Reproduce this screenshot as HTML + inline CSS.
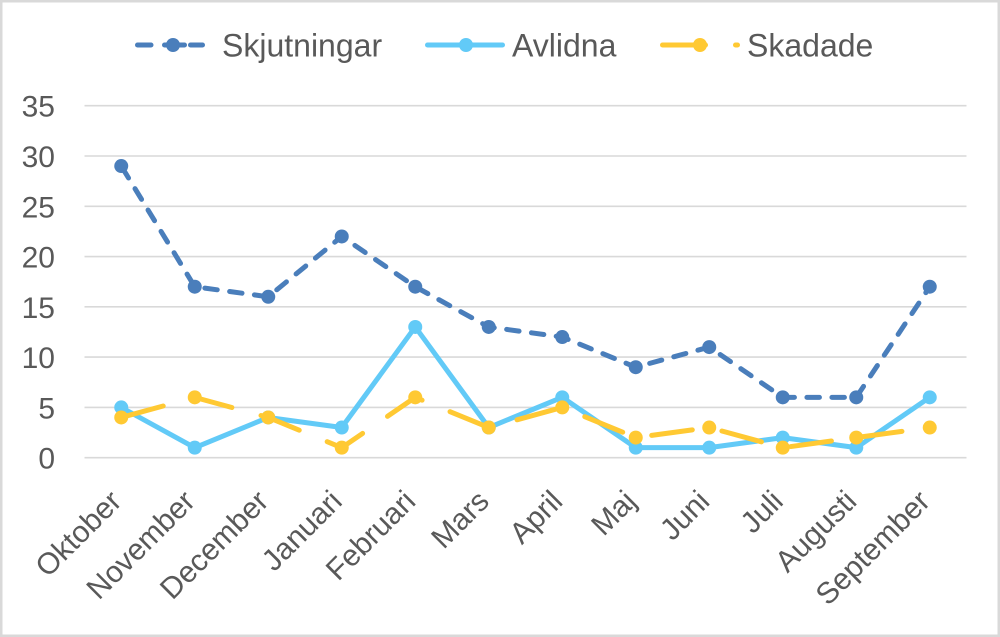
<!DOCTYPE html>
<html>
<head>
<meta charset="utf-8">
<style>
  html, body { margin:0; padding:0; background:#fff; }
  svg { display:block; }
  text { font-family: "Liberation Sans", Arial, sans-serif; fill:#595959; }
</style>
</head>
<body>
<svg width="1000" height="637" viewBox="0 0 1000 637" xmlns="http://www.w3.org/2000/svg">
  <rect x="0" y="0" width="1000" height="637" fill="#fff"/>
  <rect x="1.25" y="1.25" width="997.5" height="634.5" fill="none" stroke="#d9d9d9" stroke-width="2.5"/>

  <!-- gridlines -->
  <g stroke="#d9d9d9" stroke-width="1.6">
    <line x1="84.5" y1="105.7" x2="966.5" y2="105.7"/>
    <line x1="84.5" y1="156.0" x2="966.5" y2="156.0"/>
    <line x1="84.5" y1="206.3" x2="966.5" y2="206.3"/>
    <line x1="84.5" y1="256.6" x2="966.5" y2="256.6"/>
    <line x1="84.5" y1="306.8" x2="966.5" y2="306.8"/>
    <line x1="84.5" y1="357.1" x2="966.5" y2="357.1"/>
    <line x1="84.5" y1="407.4" x2="966.5" y2="407.4"/>
    <line x1="84.5" y1="457.7" x2="966.5" y2="457.7"/>
  </g>

  <!-- y labels -->
  <g font-size="30" text-anchor="end">
    <text x="55" y="116.7">35</text>
    <text x="55" y="167.0">30</text>
    <text x="55" y="217.3">25</text>
    <text x="55" y="267.6">20</text>
    <text x="55" y="317.8">15</text>
    <text x="55" y="368.1">10</text>
    <text x="55" y="418.4">5</text>
    <text x="55" y="468.7">0</text>
  </g>

  <!-- x labels -->
  <g font-size="30" text-anchor="end">
    <text transform="translate(123.25,503) rotate(-45)">Oktober</text>
    <text transform="translate(196.75,503) rotate(-45)">November</text>
    <text transform="translate(270.25,503) rotate(-45)">December</text>
    <text transform="translate(343.75,503) rotate(-45)">Januari</text>
    <text transform="translate(417.25,503) rotate(-45)">Februari</text>
    <text transform="translate(490.75,503) rotate(-45)">Mars</text>
    <text transform="translate(564.25,503) rotate(-45)">April</text>
    <text transform="translate(637.75,503) rotate(-45)">Maj</text>
    <text transform="translate(711.25,503) rotate(-45)">Juni</text>
    <text transform="translate(784.75,503) rotate(-45)">Juli</text>
    <text transform="translate(858.25,503) rotate(-45)">Augusti</text>
    <text transform="translate(931.75,503) rotate(-45)">September</text>
  </g>

  <!-- Skjutningar -->
  <g>
    <polyline fill="none" stroke="#4A7EBB" stroke-width="5" stroke-linecap="round" stroke-linejoin="round"
      stroke-dasharray="12.5 12.5" stroke-dashoffset="-1.5"
      points="121.25,166.05 194.75,286.73 268.25,296.79 341.75,236.45 415.25,286.73 488.75,326.96 562.25,337.02 635.75,367.19 709.25,347.07 782.75,397.36 856.25,397.36 929.75,286.73"/>
    <g fill="#4A7EBB">
      <circle cx="121.25" cy="166.05" r="7"/>
      <circle cx="194.75" cy="286.73" r="7"/>
      <circle cx="268.25" cy="296.79" r="7"/>
      <circle cx="341.75" cy="236.45" r="7"/>
      <circle cx="415.25" cy="286.73" r="7"/>
      <circle cx="488.75" cy="326.96" r="7"/>
      <circle cx="562.25" cy="337.02" r="7"/>
      <circle cx="635.75" cy="367.19" r="7"/>
      <circle cx="709.25" cy="347.07" r="7"/>
      <circle cx="782.75" cy="397.36" r="7"/>
      <circle cx="856.25" cy="397.36" r="7"/>
      <circle cx="929.75" cy="286.73" r="7"/>
    </g>
  </g>

  <!-- Avlidna -->
  <g>
    <polyline fill="none" stroke="#62CAF7" stroke-width="5" stroke-linecap="round" stroke-linejoin="round"
      points="121.25,407.42 194.75,447.64 268.25,417.47 341.75,427.53 415.25,326.96 488.75,427.53 562.25,397.36 635.75,447.64 709.25,447.64 782.75,437.59 856.25,447.64 929.75,397.36"/>
    <g fill="#62CAF7">
      <circle cx="121.25" cy="407.42" r="7"/>
      <circle cx="194.75" cy="447.64" r="7"/>
      <circle cx="268.25" cy="417.47" r="7"/>
      <circle cx="341.75" cy="427.53" r="7"/>
      <circle cx="415.25" cy="326.96" r="7"/>
      <circle cx="488.75" cy="427.53" r="7"/>
      <circle cx="562.25" cy="397.36" r="7"/>
      <circle cx="635.75" cy="447.64" r="7"/>
      <circle cx="709.25" cy="447.64" r="7"/>
      <circle cx="782.75" cy="437.59" r="7"/>
      <circle cx="856.25" cy="447.64" r="7"/>
      <circle cx="929.75" cy="397.36" r="7"/>
    </g>
  </g>

  <!-- Skadade -->
  <g>
    <polyline fill="none" stroke="#FFC933" stroke-width="5" stroke-linecap="round" stroke-linejoin="round"
      stroke-dasharray="41 30.2" stroke-dashoffset="-2.5"
      points="121.25,417.47 194.75,397.36 268.25,417.47 341.75,447.64 415.25,397.36 488.75,427.53 562.25,407.42 635.75,437.59 709.25,427.53 782.75,447.64 856.25,437.59 929.75,427.53"/>
    <g fill="#FFC933">
      <circle cx="121.25" cy="417.47" r="7"/>
      <circle cx="194.75" cy="397.36" r="7"/>
      <circle cx="268.25" cy="417.47" r="7"/>
      <circle cx="341.75" cy="447.64" r="7"/>
      <circle cx="415.25" cy="397.36" r="7"/>
      <circle cx="488.75" cy="427.53" r="7"/>
      <circle cx="562.25" cy="407.42" r="7"/>
      <circle cx="635.75" cy="437.59" r="7"/>
      <circle cx="709.25" cy="427.53" r="7"/>
      <circle cx="782.75" cy="447.64" r="7"/>
      <circle cx="856.25" cy="437.59" r="7"/>
      <circle cx="929.75" cy="427.53" r="7"/>
    </g>
  </g>

  <!-- Legend -->
  <g stroke-width="5" stroke-linecap="round">
    <!-- Skjutningar -->
    <line x1="137.5" y1="45" x2="151" y2="45" stroke="#4A7EBB"/>
    <line x1="164.5" y1="45" x2="184.5" y2="45" stroke="#4A7EBB"/>
    <line x1="190.5" y1="45" x2="202.5" y2="45" stroke="#4A7EBB"/>
    <circle cx="173" cy="45" r="7" fill="#4A7EBB" stroke="none"/>
    <!-- Avlidna -->
    <line x1="427.5" y1="45" x2="502.5" y2="45" stroke="#62CAF7"/>
    <circle cx="466" cy="45" r="7" fill="#62CAF7" stroke="none"/>
    <!-- Skadade -->
    <line x1="662.5" y1="45" x2="705.5" y2="45" stroke="#FFC933"/>
    <line x1="735.5" y1="45" x2="737.5" y2="45" stroke="#FFC933"/>
    <circle cx="700" cy="45" r="7" fill="#FFC933" stroke="none"/>
  </g>
  <g font-size="32">
    <text x="222" y="56.5">Skjutningar</text>
    <text x="512" y="56.5">Avlidna</text>
    <text x="747" y="56.5">Skadade</text>
  </g>
</svg>
</body>
</html>
